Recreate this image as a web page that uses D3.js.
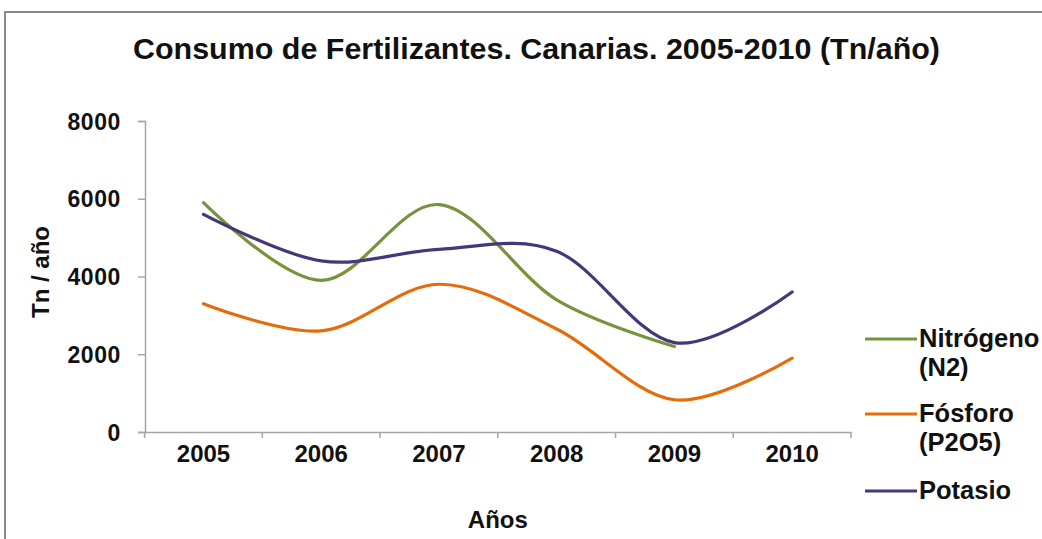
<!DOCTYPE html>
<html><head><meta charset="utf-8">
<script src="https://cdn.jsdelivr.net/npm/d3@7/dist/d3.min.js"></script>
<style>
html,body{margin:0;padding:0;background:#fff;}
svg{display:block;}
text{font-family:"Liberation Sans",Arial,sans-serif;font-weight:bold;fill:#111;}
</style></head>
<body>
<svg id="chart" width="1042" height="539"></svg>
<script>
const years = ["2005","2006","2007","2008","2009","2010"];
const nitrogeno = [5900, 3900, 5850, 3400, 2200, null];
const fosforo = [3300, 2600, 3800, 2650, 830, 1900];
const potasio = [5600, 4400, 4700, 4650, 2300, 3600];
const yTicks = [0, 2000, 4000, 6000, 8000];
const seriesNames = [["Nitrógeno","(N2)"],["Fósforo","(P2O5)"],["Potasio"]];
const seriesColors = ["#77933C","#E46C0A","#433879"];

const svg = d3.select("#chart");
svg.append("rect").attr("x",0).attr("y",0).attr("width",1042).attr("height",539).attr("fill","#fff");
// outer frame
svg.append("rect").attr("x",5).attr("y",12).attr("width",1060).attr("height",560)
  .attr("fill","none").attr("stroke","#8a8a8a").attr("stroke-width",2);

const x = d3.scaleBand().domain(years).range([144.6, 851]);
const y = d3.scaleLinear().domain([0, 8000]).range([432, 121]);

// title
svg.append("text").attr("x",536.5).attr("y",59).attr("text-anchor","middle")
  .attr("font-size",29).attr("textLength",807).attr("lengthAdjust","spacingAndGlyphs")
  .text("Consumo de Fertilizantes. Canarias. 2005-2010 (Tn/año)");

// y axis
const yAxis = svg.append("g").attr("transform","translate(145,0)")
  .call(d3.axisLeft(y).tickValues(yTicks).tickSize(7).tickPadding(17).tickFormat(d3.format("d")));
yAxis.select(".domain").attr("stroke","#A6A6A6").attr("stroke-width",1.5);
yAxis.selectAll(".tick line").attr("stroke","#A6A6A6").attr("stroke-width",1.5);
yAxis.selectAll(".tick text").attr("font-size",23).attr("font-family","'Liberation Sans',Arial,sans-serif")
  .attr("font-weight","bold").attr("fill","#111").attr("dy","0.35em").attr("letter-spacing",0.6);

// x axis
const xAxis = svg.append("g").attr("transform","translate(0,432)")
  .call(d3.axisBottom(x).tickSize(0).tickPadding(30).tickSizeOuter(0));
xAxis.select(".domain").attr("stroke","#A6A6A6").attr("stroke-width",1.5);
xAxis.selectAll(".tick text").attr("font-size",24).attr("font-family","'Liberation Sans',Arial,sans-serif")
  .attr("font-weight","bold").attr("fill","#111").attr("dy","0");
// boundary ticks
const bounds = years.map(d => x(d)).concat([x(years[years.length-1]) + x.bandwidth()]);
svg.append("g").selectAll("line").data(bounds).join("line")
  .attr("x1",d=>d).attr("x2",d=>d).attr("y1",432).attr("y2",438)
  .attr("stroke","#A6A6A6").attr("stroke-width",1.5);

// axis titles
svg.append("text").attr("transform","translate(49,272) rotate(-90)").attr("text-anchor","middle")
  .attr("font-size",24).text("Tn / año");
svg.append("text").attr("x",497.8).attr("y",528).attr("text-anchor","middle")
  .attr("font-size",24).text("Años");

// lines
const allSeries = [nitrogeno, fosforo, potasio];
const line = d3.line()
  .defined(d => d.v != null)
  .x(d => x(d.year) + x.bandwidth()/2)
  .y(d => y(d.v))
  .curve(d3.curveCatmullRom.alpha(0));
allSeries.forEach((vals, i) => {
  svg.append("path")
    .datum(years.map((yr, j) => ({year: yr, v: vals[j]})))
    .attr("fill","none").attr("stroke",seriesColors[i]).attr("stroke-width",3.2)
    .attr("stroke-linecap","round").attr("d", line);
});

// legend
const legendY = [339, 414, 491];
seriesNames.forEach((lines, i) => {
  svg.append("line").attr("x1",865).attr("x2",917).attr("y1",legendY[i]).attr("y2",legendY[i])
    .attr("stroke",seriesColors[i]).attr("stroke-width",3.2);
  const t = svg.append("text").attr("x",919).attr("y",legendY[i]+8).attr("font-size",25.5);
  lines.forEach((s, k) => {
    t.append("tspan").attr("x",919).attr("dy", k === 0 ? 0 : 29).text(s);
  });
});
</script>
</body></html>
